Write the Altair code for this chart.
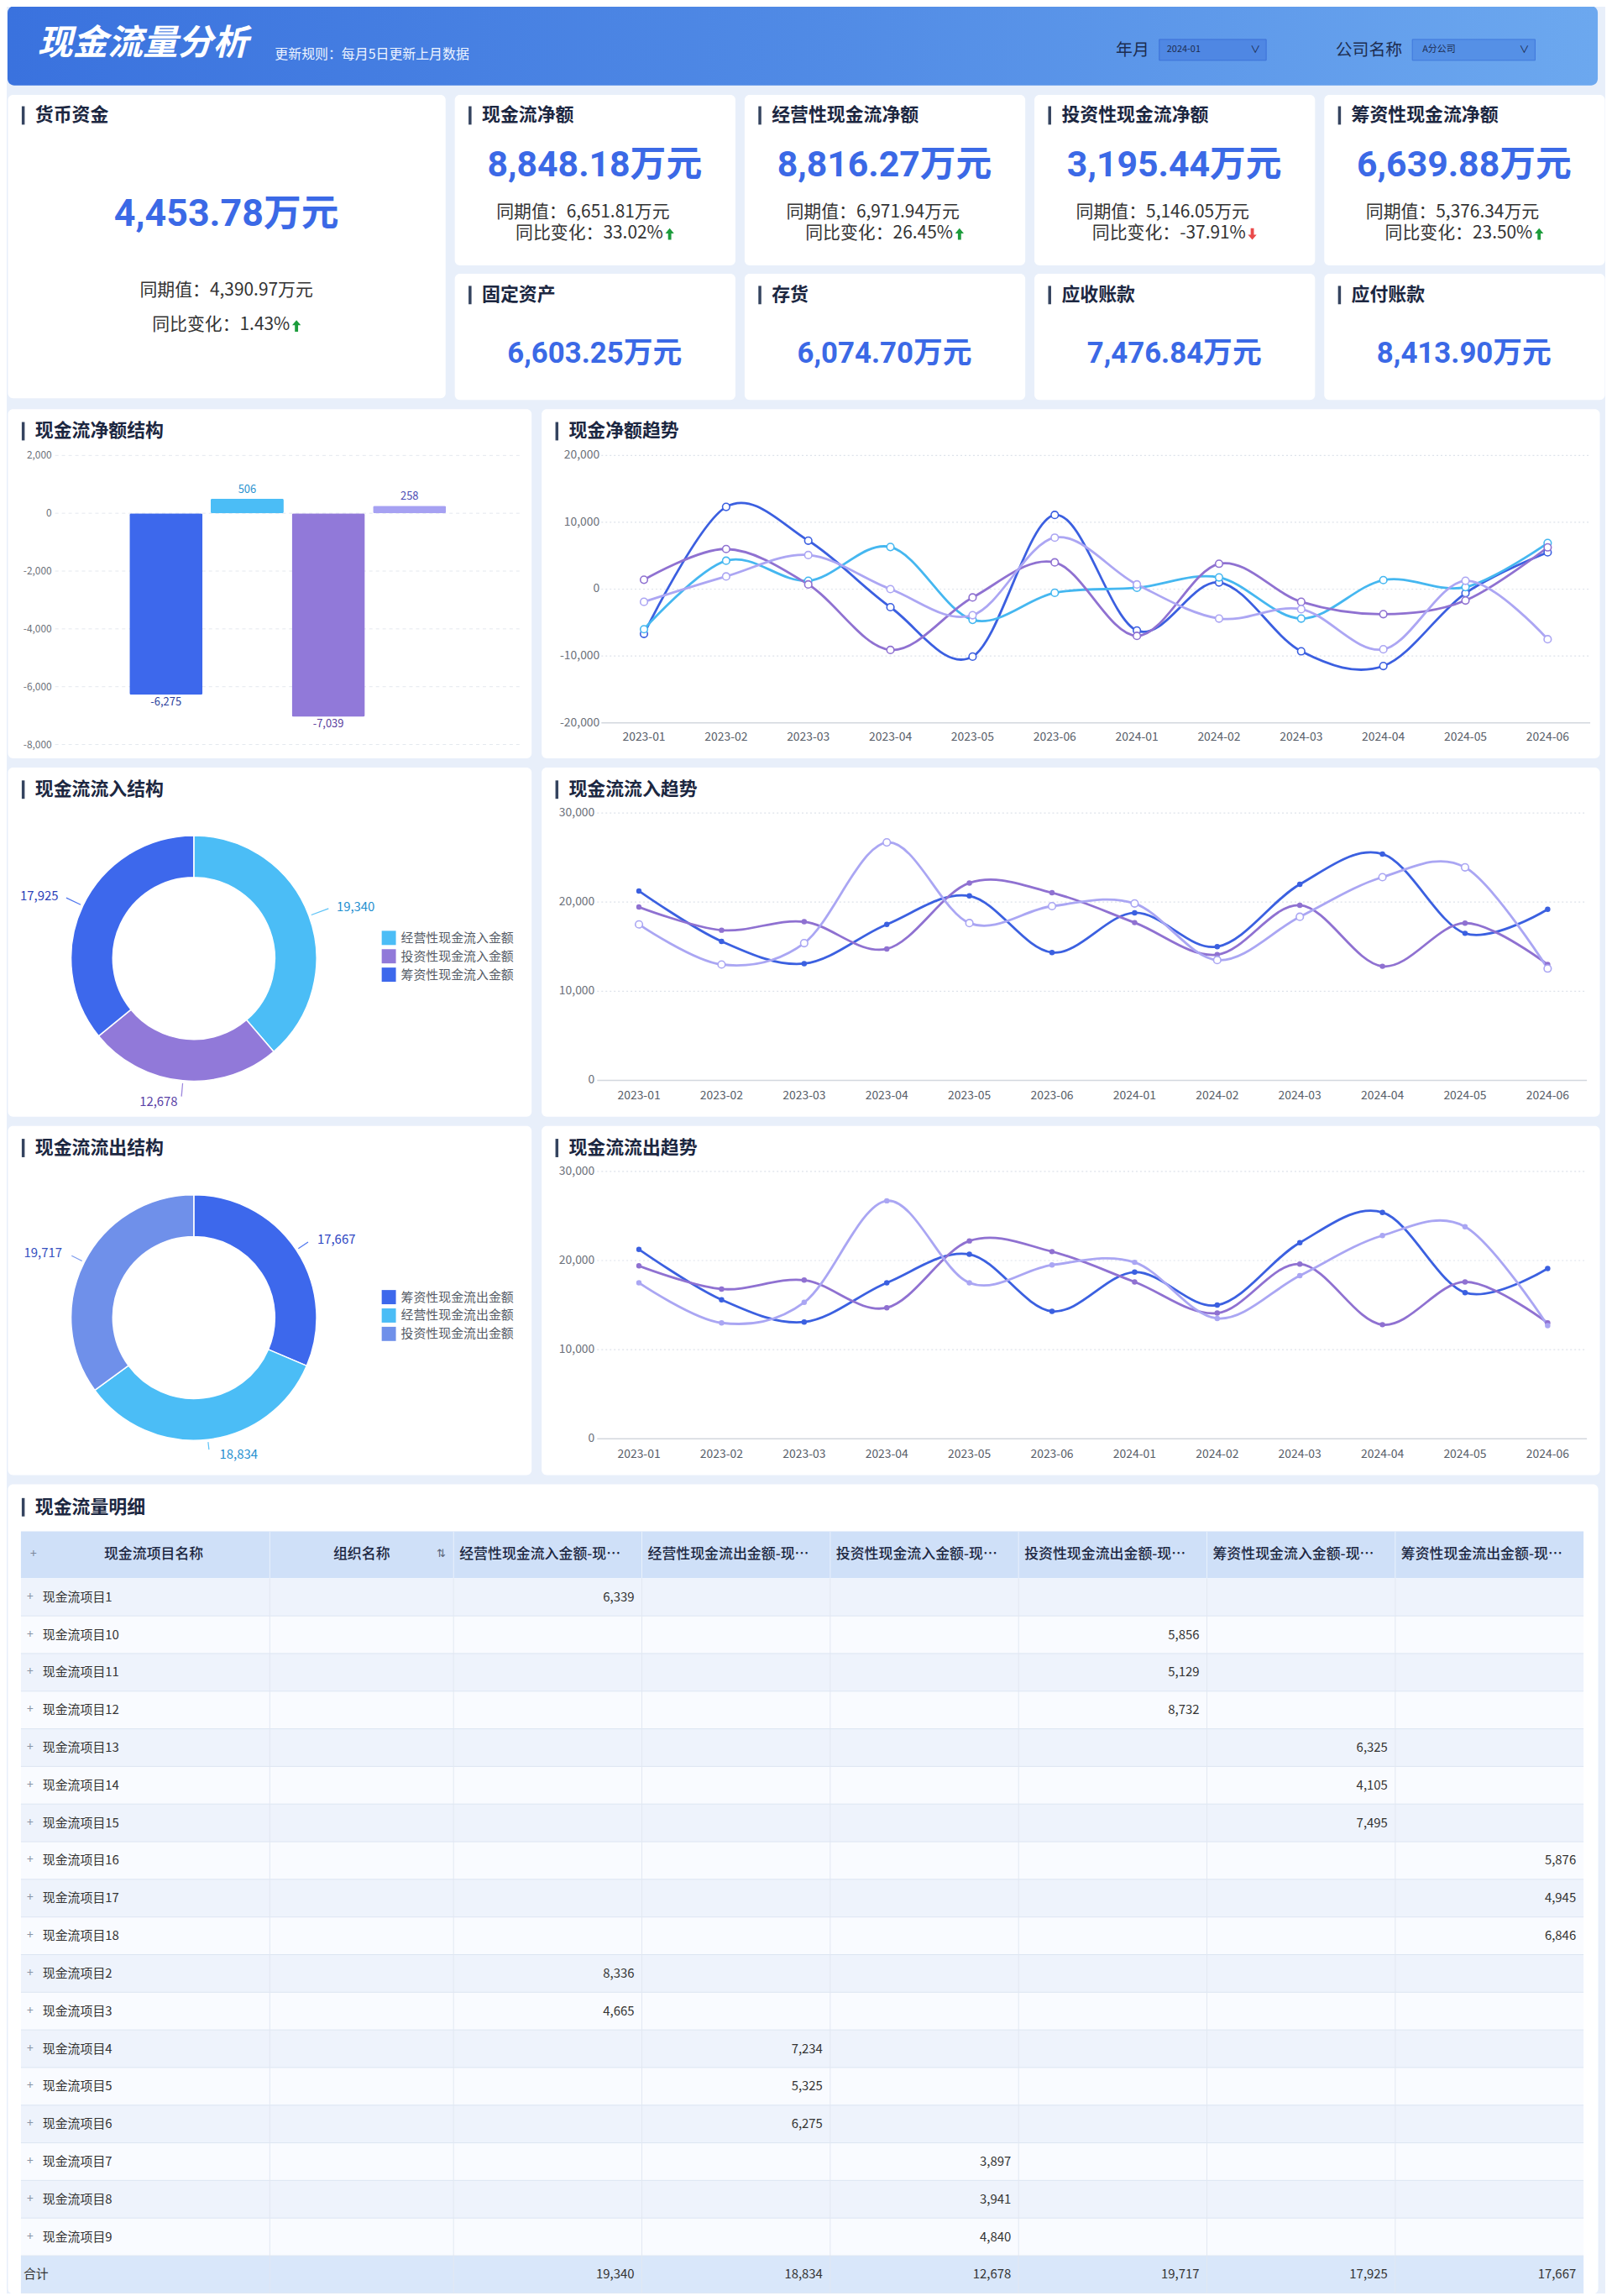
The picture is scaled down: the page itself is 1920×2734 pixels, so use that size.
import altair as alt
import pandas as pd

# ---------------- texts and values ----------------
HEADER_TITLE = "现金流量分析"
HEADER_NOTE = "更新规则：每月5日更新上月数据"
FILTER_NAMES = ["年月", "公司名称"]
FILTER_VALUES = ["2024-01", "A分公司"]

CASH_TITLE = "货币资金"
CASH_VALUE = 4453.78
CASH_PREV = 4390.97
CASH_YOY = 1.43

FLOW_TITLES = ["现金流净额", "经营性现金流净额", "投资性现金流净额", "筹资性现金流净额"]
FLOW_VALUES = [8848.18, 8816.27, 3195.44, 6639.88]
FLOW_PREV = [6651.81, 6971.94, 5146.05, 5376.34]
FLOW_YOY = [33.02, 26.45, -37.91, 23.50]

BAL_TITLES = ["固定资产", "存货", "应收账款", "应付账款"]
BAL_VALUES = [6603.25, 6074.70, 7476.84, 8413.90]

NET_TITLE = "现金流净额结构"
NET_CATS = ["现金流净额", "经营性现金流净额", "投资性现金流净额", "筹资性现金流净额"]
NET_VALUES = [-6275, 506, -7039, 258]
NET_TICKS = [-8000, -6000, -4000, -2000, 0, 2000]

MONTHS = ["2023-01", "2023-02", "2023-03", "2023-04", "2023-05", "2023-06",
          "2024-01", "2024-02", "2024-03", "2024-04", "2024-05", "2024-06"]

TREND_TITLE = "现金净额趋势"
NET_SERIES = ["现金流净额", "经营性现金流净额", "投资性现金流净额", "筹资性现金流净额"]
NET_TREND_TOTAL = [-6700, 12300, 7250, -2700, -10100, 11100, -6200, 1000, -9300, -11500, -600, 5500]
NET_TREND_OPER = [-6000, 4250, 1250, 6300, -4600, -550, 200, 1750, -4400, 1350, 300, 6900]
NET_TREND_INV = [1400, 6000, 700, -9100, -1250, 4000, -7000, 3800, -1900, -3750, -1700, 6250]
NET_TREND_FIN = [-1900, 1900, 5100, 0, -3900, 7700, 700, -4400, -3000, -9000, 1250, -7500]
NET_TREND_TICKS = [-20000, -10000, 0, 10000, 20000]

IN_TITLE = "现金流流入结构"
IN_TYPES = ["经营性现金流入金额", "投资性现金流入金额", "筹资性现金流入金额"]
IN_VALUES = [19340, 12678, 17925]

OUT_TITLE = "现金流流出结构"
OUT_TYPES = ["筹资性现金流出金额", "经营性现金流出金额", "投资性现金流出金额"]
OUT_VALUES = [17667, 18834, 19717]

IN_TREND_TITLE = "现金流流入趋势"
IN_SERIES = ["筹资性现金流入金额", "投资性现金流入金额", "经营性现金流入金额"]
IN_TREND_FIN = [21250, 15600, 13100, 17500, 20700, 14350, 18800, 15000, 22000, 25400, 16500, 19200]
IN_TREND_INV = [19450, 16850, 17800, 14750, 22150, 21050, 17700, 14100, 19650, 12800, 17650, 13000]
IN_TREND_OPER = [17500, 13000, 15400, 26700, 17650, 19550, 19850, 13500, 18350, 22800, 23900, 12550]

OUT_TREND_TITLE = "现金流流出趋势"
OUT_SERIES = ["筹资性现金流出金额", "投资性现金流出金额", "经营性现金流出金额"]
OUT_TREND_FIN = [21250, 15600, 13100, 17500, 20700, 14300, 18700, 15000, 22000, 25400, 16400, 19100]
OUT_TREND_INV = [19400, 16800, 17800, 14700, 22200, 21000, 17600, 14100, 19600, 12800, 17600, 13000]
OUT_TREND_OPER = [17500, 13000, 15300, 26700, 17500, 19500, 19800, 13500, 18300, 22800, 23800, 12700]
FLOW_TICKS = [0, 10000, 20000, 30000]

TABLE_TITLE = "现金流量明细"
TABLE_HEAD_FIXED = ["现金流项目名称", "组织名称"]
TABLE_COLUMNS = ["经营性现金流入金额-现金流量", "经营性现金流出金额-现金流量",
                 "投资性现金流入金额-现金流量", "投资性现金流出金额-现金流量",
                 "筹资性现金流入金额-现金流量", "筹资性现金流出金额-现金流量"]
TABLE_ROWS = ["现金流项目1", "现金流项目10", "现金流项目11", "现金流项目12", "现金流项目13",
              "现金流项目14", "现金流项目15", "现金流项目16", "现金流项目17", "现金流项目18",
              "现金流项目2", "现金流项目3", "现金流项目4", "现金流项目5", "现金流项目6",
              "现金流项目7", "现金流项目8", "现金流项目9"]
TABLE_ROW_COLUMN = [0, 3, 3, 3, 4, 4, 4, 5, 5, 5, 0, 0, 1, 1, 1, 2, 2, 2]
TABLE_ROW_VALUE = [6339, 5856, 5129, 8732, 6325, 4105, 7495, 5876, 4945, 6846,
                   8336, 4665, 7234, 5325, 6275, 3897, 3941, 4840]
TABLE_TOTAL_LABEL = "合计"
TABLE_TOTALS = [19340, 18834, 12678, 19717, 17925, 17667]

# ---------------- styles ----------------
FONT = "Noto Sans CJK SC"
NUM_FONT = "Roboto, Noto Sans CJK SC"
BG = "#e8effa"
TITLE_C = "#1c2741"
TITLE_BAR_C = "#34435f"
VALUE_C = "#3b69e6"
TEXT_C = "#333333"
AXIS_C = "#6c717a"
GREEN = "#1c9c3c"
RED = "#ea4b4b"
BLUE = "#3d68ec"
CYAN = "#4bbdf6"
PURPLE = "#9179d9"
LAVENDER = "#a6a1f2"
CORNFLOWER = "#6f90ea"

ONE = pd.DataFrame({"k": [0]})
CARD_VIEW = alt.ViewBackground(fill="white", stroke="transparent", cornerRadius=6)


def est_width(s, fs):
    w = 0.0
    for ch in s:
        if ch.isdigit():
            w += 0.555 * fs
        elif ch in ",.":
            w += 0.27 * fs
        elif ch == "%":
            w += 0.87 * fs
        elif ch == "-":
            w += 0.34 * fs
        elif ord(ch) > 0x2000:
            w += fs
        else:
            w += 0.55 * fs
    return w


def txt(s, x, y, size, color, weight="normal", align="left", font=FONT, **kw):
    return alt.Chart(ONE).mark_text(
        align=align, baseline="middle", fontSize=size, fontWeight=weight,
        color=color, font=font, **kw
    ).encode(x=alt.value(x), y=alt.value(y), text=alt.value(s))


def box(x, x2, y, y2, color, **kw):
    return alt.Chart(ONE).mark_rect(color=color, **kw).encode(
        x=alt.value(x), x2=alt.value(x2), y=alt.value(y), y2=alt.value(y2))


UP = "M-0.28,1L0.28,1L0.28,-0.12L0.75,-0.12L0,-1L-0.75,-0.12L-0.28,-0.12Z"
DOWN = "M-0.28,-1L0.28,-1L0.28,0.12L0.75,0.12L0,1L-0.75,0.12L-0.28,0.12Z"


def arrow(x, y, up):
    return alt.Chart(ONE).mark_point(
        shape=UP if up else DOWN, filled=True, size=190,
        color=GREEN if up else RED, opacity=1
    ).encode(x=alt.value(x), y=alt.value(y))


def card_title(title, ty):
    return [box(17, 20.5, ty - 11, ty + 11, TITLE_BAR_C),
            txt(title, 33, ty, 22, TITLE_C, weight="bold")]


def yoy_line(cx, y, yoy, fs=21):
    s = f"同比变化：{yoy:.2f}%"
    tw = est_width(s, fs)
    left = cx - (tw + 14) / 2
    return [txt(s, left, y, fs, TEXT_C), arrow(left + tw + 9, y + 1, yoy >= 0)]


def wan(v):
    return f"{v:,.2f}万元"


# ---------------- header ----------------
def header_panel():
    w, h = 1904, 95
    grad = alt.Gradient(
        gradient="linear", x1=0, x2=1, y1=0, y2=0,
        stops=[alt.GradientStop(color="#3a72de", offset=0),
               alt.GradientStop(color="#508ae5", offset=0.5),
               alt.GradientStop(color="#6ca8ef", offset=1)])
    layers = [
        alt.Chart(ONE).mark_rect(cornerRadius=8, color=grad).encode(
            x=alt.value(0), x2=alt.value(w), y=alt.value(0), y2=alt.value(h)),
        txt(HEADER_TITLE, 36, 45, 42, "white", weight="bold", fontStyle="italic"),
        txt(HEADER_NOTE, 320, 58, 16, "#eef4ff"),
        txt(FILTER_NAMES[0], 1327, 53, 20, "#1d2d50"),
        box(1379, 1507, 40, 65, "#4f87e3", stroke="#3b70d8", strokeWidth=1),
        txt(FILTER_VALUES[0], 1388, 52.5, 11, "#1d2d50"),
        txt("∨", 1494, 52.5, 12, "#1d2d50", align="center"),
        txt(FILTER_NAMES[1], 1590, 53, 20, "#1d2d50"),
        box(1682, 1829, 40, 65, "#5590e6", stroke="#3f78dc", strokeWidth=1),
        txt(FILTER_VALUES[1], 1694, 52.5, 11, "#1d2d50"),
        txt("∨", 1816, 52.5, 12, "#1d2d50", align="center"),
    ]
    return alt.layer(*layers).properties(
        width=w, height=h,
        view=alt.ViewBackground(fill="transparent", stroke="transparent"))


# ---------------- KPI cards ----------------
def big_card():
    w, h = 524, 363
    cx = w / 2
    layers = card_title(CASH_TITLE, 25)
    layers.append(txt(wan(CASH_VALUE), cx, 143, 45, VALUE_C, weight="bold",
                      align="center", font=NUM_FONT))
    layers.append(txt(f"同期值：{CASH_PREV:,.2f}万元", cx, 235, 21, TEXT_C, align="center"))
    layers += yoy_line(cx, 276, CASH_YOY)
    return alt.layer(*layers).properties(width=w, height=h, view=CARD_VIEW)


def flow_card(i):
    w, h = 336, 204
    cx = w / 2
    layers = card_title(FLOW_TITLES[i], 25)
    layers.append(txt(wan(FLOW_VALUES[i]), cx, 85, 43, VALUE_C, weight="bold",
                      align="center", font=NUM_FONT))
    layers.append(txt(f"同期值：{FLOW_PREV[i]:,.2f}万元", cx - 14, 141, 21, TEXT_C, align="center"))
    layers += yoy_line(cx, 166, FLOW_YOY[i])
    return alt.layer(*layers).properties(width=w, height=h, view=CARD_VIEW)


def bal_card(i):
    w, h = 336, 151
    cx = w / 2
    layers = card_title(BAL_TITLES[i], 26)
    layers.append(txt(wan(BAL_VALUES[i]), cx, 96, 35, VALUE_C, weight="bold",
                      align="center", font=NUM_FONT))
    return alt.layer(*layers).properties(width=w, height=h, view=CARD_VIEW)


def ind(c):
    return c.resolve_scale(color="independent", stroke="independent")


# ---------------- net structure bars ----------------
def net_struct_card():
    w, h = 627, 418
    df = pd.DataFrame({"cat": NET_CATS, "value": NET_VALUES})
    ticks = pd.DataFrame({"v": NET_TICKS})
    ysc = alt.Scale(domain=[-8000, 2000], range=[402, 56], nice=False, zero=False)
    xsc = alt.Scale(type="band", domain=NET_CATS, range=[146, 525], paddingInner=0.1, paddingOuter=0)
    X = alt.X("cat:N", scale=xsc, axis=None)
    Xc = alt.X("cat:N", scale=xsc, axis=None, bandPosition=0.5)
    Y = alt.Y("value:Q", scale=ysc, axis=None)
    fmt = "replace(format(datum.value, ','), '\u2212', '-')"
    grid = alt.Chart(ticks).mark_rule(color="#e4e8ee", strokeDash=[4, 4]).encode(
        y=alt.Y("v:Q", scale=ysc, axis=None), x=alt.value(57), x2=alt.value(614))
    ylab = alt.Chart(ticks).transform_calculate(
        lbl="replace(format(datum.v, ','), '\u2212', '-')"
    ).mark_text(align="right", baseline="middle", fontSize=12, color=AXIS_C, font=FONT).encode(
        y=alt.Y("v:Q", scale=ysc, axis=None), x=alt.value(53), text="lbl:N")
    bars = alt.Chart(df).mark_bar(cornerRadius=2).encode(
        x=X, y=Y,
        color=alt.Color("cat:N", scale=alt.Scale(domain=NET_CATS, range=[BLUE, CYAN, PURPLE, LAVENDER]),
                        legend=None))
    lab_scale = alt.Scale(domain=NET_CATS, range=["#2c3f9c", "#2a92cf", "#5b3f9e", "#4b4cb3"])
    neg = alt.Chart(df).transform_filter("datum.value < 0").transform_calculate(lbl=fmt).mark_text(
        baseline="top", dy=3, fontSize=13, font=FONT).encode(
        x=Xc, y=Y, text="lbl:N", color=alt.Color("cat:N", scale=lab_scale, legend=None))
    pos = alt.Chart(df).transform_filter("datum.value >= 0").transform_calculate(lbl=fmt).mark_text(
        baseline="bottom", dy=-4, fontSize=13, font=FONT).encode(
        x=Xc, y=Y, text="lbl:N", color=alt.Color("cat:N", scale=lab_scale, legend=None))
    layers = card_title(NET_TITLE, 27) + [grid, ylab, bars, neg, pos]
    return ind(alt.layer(*layers)).properties(width=w, height=h, view=CARD_VIEW)


# ---------------- trend lines ----------------
def trend_card(title, names, series, colors, ticks, ydom, yrng, xrng, gridx, labx, xlaby,
               hollow, fsize, hsize):
    w, h = 1267, 418
    rows = []
    for s, vals in zip(names, series):
        for m, v in zip(MONTHS, vals):
            rows.append({"month": m, "series": s, "value": v})
    long = pd.DataFrame(rows)
    tdf = pd.DataFrame({"v": ticks})
    xsc = alt.Scale(type="point", domain=MONTHS, range=xrng, padding=0)
    ysc = alt.Scale(domain=ydom, range=yrng, nice=False, zero=False)
    csc = alt.Scale(domain=names, range=colors)
    X = alt.X("month:O", scale=xsc, axis=None)
    Y = alt.Y("value:Q", scale=ysc, axis=None)
    Yt = alt.Y("v:Q", scale=ysc, axis=None)
    grid = alt.Chart(tdf).transform_filter(f"datum.v > {ydom[0]}").mark_rule(
        color="#dde2ea", strokeDash=[2, 3], strokeWidth=1.2).encode(
        y=Yt, x=alt.value(gridx[0]), x2=alt.value(gridx[1]))
    base = alt.Chart(tdf).transform_filter(f"datum.v == {ydom[0]}").mark_rule(
        color="#d3d7de", strokeWidth=1.5).encode(
        y=Yt, x=alt.value(gridx[0]), x2=alt.value(gridx[1]))
    ylab = alt.Chart(tdf).transform_calculate(
        lbl="replace(format(datum.v, ','), '\u2212', '-')"
    ).mark_text(align="right", baseline="middle", fontSize=14, color=AXIS_C, font=FONT).encode(
        y=Yt, x=alt.value(labx), text="lbl:N")
    xlab = alt.Chart(pd.DataFrame({"month": MONTHS})).mark_text(
        align="center", baseline="middle", fontSize=14, color="#575d68", font=FONT).encode(
        x=X, y=alt.value(xlaby), text="month:N")
    lines = alt.Chart(long).mark_line(interpolate="cardinal", strokeWidth=2.8).encode(
        x=X, y=Y, color=alt.Color("series:N", scale=csc, legend=None))
    layers = card_title(title, 27) + [grid, base, ylab, xlab, lines]
    filled = [s for s in names if s not in hollow]
    if filled:
        layers.append(alt.Chart(long).transform_filter(
            alt.FieldOneOfPredicate(field="series", oneOf=filled)).mark_circle(
            size=fsize, opacity=1).encode(
            x=X, y=Y, color=alt.Color("series:N", scale=csc, legend=None)))
    if hollow:
        layers.append(alt.Chart(long).transform_filter(
            alt.FieldOneOfPredicate(field="series", oneOf=hollow)).mark_circle(
            size=hsize, opacity=1, fill="white", strokeWidth=1.6).encode(
            x=X, y=Y, stroke=alt.Stroke("series:N", scale=csc, legend=None)))
    return alt.layer(*layers).properties(width=w, height=h, view=CARD_VIEW)


# ---------------- donuts ----------------
def donut_card(title, types, values, colors, label_colors, label_specs, cy, legend_y):
    w, h = 627, 418
    df = pd.DataFrame({"type": types, "value": values, "idx": list(range(len(types)))})
    theta = alt.Theta("value:Q", stack=True)
    order = alt.Order("idx:Q", sort="ascending")
    arc = alt.Chart(df).mark_arc(innerRadius=97, outerRadius=147, stroke="white", strokeWidth=1.5).encode(
        theta=theta, order=order, x=alt.value(223), y=alt.value(cy),
        color=alt.Color("type:N", scale=alt.Scale(domain=types, range=colors),
                        legend=alt.Legend(orient="none", legendX=448, legendY=legend_y, title=None,
                                          symbolType="square", symbolSize=289, symbolStrokeWidth=0,
                                          labelFontSize=15, labelColor="#555b66", labelFont=FONT,
                                          rowPadding=5, labelOffset=6, padding=0)))
    layers = card_title(title, 27) + [arc]
    for i, (r, al, dx) in enumerate(label_specs):
        # short radial leader segment at the middle angle of slice i
        layers.append(alt.Chart(df).transform_window(
            cum="sum(value)", sort=[alt.SortField("idx")]
        ).transform_joinaggregate(total="sum(value)").transform_calculate(
            a0="(datum.cum - datum.value / 2) / datum.total * 2 * PI - 0.004",
            a1="(datum.cum - datum.value / 2) / datum.total * 2 * PI + 0.004",
        ).transform_filter(f"datum.idx == {i}").mark_arc(
            innerRadius=150, outerRadius=r - 6, color=colors[i], opacity=0.9).encode(
            theta=alt.Theta("a0:Q", scale=None), theta2=alt.Theta2("a1:Q"),
            x=alt.value(223), y=alt.value(cy)))
        layers.append(alt.Chart(df).transform_calculate(
            lbl=f"datum.idx == {i} ? format(datum.value, ',') : ''"
        ).mark_text(radius=r, align=al, dx=dx, baseline="middle", fontSize=15,
                    color=label_colors[i], font=FONT).encode(
            theta=theta, order=order, x=alt.value(223), y=alt.value(cy), text="lbl:N"))
    return alt.layer(*layers).properties(width=w, height=h, view=CARD_VIEW)


# ---------------- table ----------------
def table_card():
    w, h = 1904, 969
    rows = TABLE_ROWS + [TABLE_TOTAL_LABEL]
    n_items = len(TABLE_ROWS)
    top, bottom = 113, 969
    ysc = alt.Scale(type="band", domain=rows, range=[top, bottom], paddingInner=0, paddingOuter=0)
    xsc = alt.Scale(type="band", domain=TABLE_COLUMNS, range=[534, 1887], paddingInner=0, paddingOuter=0)
    Yb = alt.Y("row:N", scale=ysc, axis=None)
    Yc = alt.Y("row:N", scale=ysc, axis=None, bandPosition=0.5)
    rowdf = pd.DataFrame({"row": rows, "i": list(range(len(rows)))})
    coldf = pd.DataFrame({"col": TABLE_COLUMNS})

    stripes = alt.Chart(rowdf).transform_calculate(
        fill=f"datum.i >= {n_items} ? '#d9e7fa' : (datum.i % 2 == 0 ? '#eef3fc' : '#f9fbff')"
    ).mark_rect().encode(y=Yb, x=alt.value(16), x2=alt.value(1887),
                         color=alt.Color("fill:N", scale=None))
    seps = alt.Chart(rowdf).mark_rule(color="#dce5f2", strokeWidth=1).encode(
        y=alt.Y("row:N", scale=ysc, axis=None, bandPosition=1), x=alt.value(16), x2=alt.value(1887))
    vlines = alt.Chart(coldf).mark_rule(color="#e2e8f2").encode(
        x=alt.X("col:N", scale=xsc, axis=None, bandPosition=0), y=alt.value(top), y2=alt.value(bottom))
    head_bg = box(16, 1887, 57, 113, "#cfe0f8")
    head_lines = alt.Chart(coldf).mark_rule(color="#e9f1fc", strokeWidth=1).encode(
        x=alt.X("col:N", scale=xsc, axis=None, bandPosition=0), y=alt.value(57), y2=alt.value(113))
    fixed_line = alt.Chart(ONE).mark_rule(color="#e9f1fc").encode(
        x=alt.value(314), y=alt.value(57), y2=alt.value(113))
    head_num = alt.Chart(coldf).mark_text(
        align="left", baseline="middle", dx=7, fontSize=17, fontWeight=500, color=TITLE_C,
        font=FONT, limit=206).encode(
        x=alt.X("col:N", scale=xsc, axis=None, bandPosition=0), y=alt.value(85), text="col:N")

    cells = pd.DataFrame({"row": TABLE_ROWS,
                          "col": [TABLE_COLUMNS[c] for c in TABLE_ROW_COLUMN],
                          "value": TABLE_ROW_VALUE})
    totals = pd.DataFrame({"row": [TABLE_TOTAL_LABEL] * len(TABLE_COLUMNS),
                           "col": TABLE_COLUMNS, "value": TABLE_TOTALS})
    allcells = pd.concat([cells, totals], ignore_index=True)
    celltext = alt.Chart(allcells).mark_text(
        align="right", baseline="middle", dx=-9, fontSize=15, color=TEXT_C, font=FONT).encode(
        x=alt.X("col:N", scale=xsc, axis=None, bandPosition=1), y=Yc,
        text=alt.Text("value:Q", format=","))
    itemdf = pd.DataFrame({"row": TABLE_ROWS})
    plus = alt.Chart(itemdf).mark_text(
        align="center", baseline="middle", fontSize=14, color="#8a94a6", font=FONT).encode(
        x=alt.value(27), y=Yc, text=alt.value("+"))
    names = alt.Chart(itemdf).mark_text(
        align="left", baseline="middle", fontSize=15, color=TEXT_C, font=FONT).encode(
        x=alt.value(42), y=Yc, text="row:N")
    total_lbl = alt.Chart(pd.DataFrame({"row": [TABLE_TOTAL_LABEL]})).mark_text(
        align="left", baseline="middle", fontSize=15, color=TEXT_C, font=FONT).encode(
        x=alt.value(19), y=Yc, text="row:N")

    layers = card_title(TABLE_TITLE, 28) + [
        head_bg, head_lines, fixed_line,
        txt("+", 31, 85, 14, "#7c879b", align="center"),
        txt(TABLE_HEAD_FIXED[0], 175, 85, 17, TITLE_C, weight=500, align="center"),
        txt(TABLE_HEAD_FIXED[1], 424, 85, 17, TITLE_C, weight=500, align="center"),
        txt("⇅", 519, 84, 13, "#5a6478", align="center", font="DejaVu Sans"),
        head_num, stripes, seps, vlines,
        alt.Chart(ONE).mark_rule(color="#e2e8f2").encode(x=alt.value(314), y=alt.value(top), y2=alt.value(bottom)),
        plus, names, total_lbl, celltext,
    ]
    return alt.layer(*layers).properties(width=w, height=h, view=CARD_VIEW)


# ---------------- assemble ----------------
header = header_panel()
kpi = ind(alt.hconcat(
    big_card(),
    ind(alt.vconcat(
        ind(alt.hconcat(*[flow_card(i) for i in range(4)], spacing=9)),
        ind(alt.hconcat(*[bal_card(i) for i in range(4)], spacing=9)),
        spacing=8)),
    spacing=9))

row2 = ind(alt.hconcat(
    net_struct_card(),
    trend_card(TREND_TITLE, NET_SERIES, [NET_TREND_TOTAL, NET_TREND_OPER, NET_TREND_INV, NET_TREND_FIN],
               ["#3b5fe0", "#45b7f0", "#8f71d1", "#aca6f3"], NET_TREND_TICKS,
               [-20000, 20000], [376, 56], [123, 1205], [72, 1256], 70, 393,
               hollow=NET_SERIES, fsize=40, hsize=75),
    spacing=10))

row3 = ind(alt.hconcat(
    donut_card(IN_TITLE, IN_TYPES, IN_VALUES, [CYAN, PURPLE, BLUE],
               ["#1f8fd0", "#5a3fa6", "#2c40b8"],
               [(178, "left", 4), (172, "right", -4), (175, "right", -4)], 229, 196),
    trend_card(IN_TREND_TITLE, IN_SERIES, [IN_TREND_FIN, IN_TREND_INV, IN_TREND_OPER],
               ["#3b60e0", "#8f71d1", "#aaa6f3"], FLOW_TICKS,
               [0, 30000], [375, 55], [117, 1205], [67, 1252], 64, 394,
               hollow=[IN_SERIES[2]], fsize=42, hsize=75),
    spacing=10))

row4 = ind(alt.hconcat(
    donut_card(OUT_TITLE, OUT_TYPES, OUT_VALUES, [BLUE, CYAN, CORNFLOWER],
               ["#2c44c2", "#1f8fd0", "#3550bf"],
               [(170, "left", 6), (165, "left", 12), (170, "right", -6)], 230, 197),
    trend_card(OUT_TREND_TITLE, OUT_SERIES, [OUT_TREND_FIN, OUT_TREND_INV, OUT_TREND_OPER],
               ["#3b60e0", "#8f71d1", "#aaa6f3"], FLOW_TICKS,
               [0, 30000], [375, 55], [117, 1205], [67, 1252], 64, 394,
               hollow=[], fsize=42, hsize=75),
    spacing=10))

chart = ind(alt.vconcat(header, kpi, row2, row3, row4, table_card(), spacing=9)).properties(
    padding={"top": -9, "left": 0, "right": 0, "bottom": -8}, background=BG
).configure(font=FONT).configure_view(stroke="transparent")

chart.save("out.html", embed_options={"renderer": "svg", "actions": False})
